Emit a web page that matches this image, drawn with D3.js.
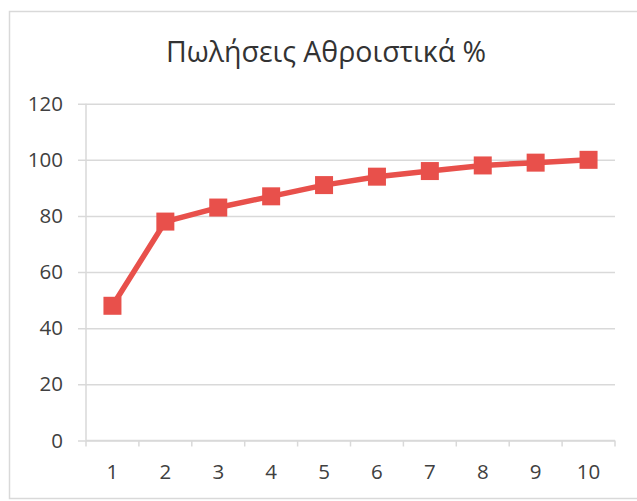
<!DOCTYPE html>
<html>
<head>
<meta charset="utf-8">
<script src="https://cdn.jsdelivr.net/npm/d3@7"></script>
<style>
  html, body { margin: 0; padding: 0; background: #ffffff; }
  svg { display: block; }
  text { font-family: "Open Sans", "Noto Sans", sans-serif; fill: #404040; }
</style>
</head>
<body>
<svg id="chart" width="637" height="501"></svg>
<script>
// Cumulative sales share per item (%)
const categories = ["1", "2", "3", "4", "5", "6", "7", "8", "9", "10"];
const cumulativeSales = [48, 78, 83, 87, 91, 94, 96, 98, 99, 100];
const yTicks = [0, 20, 40, 60, 80, 100, 120];
const chartTitle = "Πωλήσεις Αθροιστικά %";

const svg = d3.select("#chart");
const plot = { left: 86, right: 615, top: 103.7, bottom: 440.5 };
const gridColor = "#d9d9d9";
const seriesColor = "#e8504b";

// chart frame
svg.append("rect")
  .attr("x", 9.5).attr("y", 11.5)
  .attr("width", 640).attr("height", 487)
  .attr("fill", "#ffffff")
  .attr("stroke", gridColor).attr("stroke-width", 1.5);

const x = d3.scaleBand().domain(categories).range([plot.left, plot.right]).padding(0);
const y = d3.scaleLinear().domain([0, 120]).range([plot.bottom, plot.top]);

// title
svg.append("text")
  .attr("x", 326).attr("y", 62)
  .attr("text-anchor", "middle")
  .style("font-size", "28.5px")
  .style("fill", "#333333")
  .text(chartTitle);

// horizontal gridlines with left ticks
const yAxis = d3.axisLeft(y).tickValues(yTicks).tickSize(-(plot.right - plot.left)).tickPadding(23);
const gy = svg.append("g").attr("transform", `translate(${plot.left},0)`).call(yAxis);
gy.select(".domain").remove();
gy.selectAll(".tick line")
  .attr("x1", -8)
  .attr("stroke", gridColor).attr("stroke-width", 1.5);
gy.selectAll(".tick text").style("font-size", "20.5px").attr("fill", "#404040");

// vertical axis line
svg.append("line")
  .attr("x1", plot.left).attr("x2", plot.left)
  .attr("y1", plot.top).attr("y2", plot.bottom)
  .attr("stroke", gridColor).attr("stroke-width", 1.5);

// category axis
const xAxis = d3.axisBottom(x).tickSize(0).tickPadding(24);
const gx = svg.append("g").attr("transform", `translate(0,${plot.bottom})`).call(xAxis);
gx.select(".domain").attr("stroke", gridColor).attr("stroke-width", 1.5)
  .attr("d", `M${plot.left},0H${plot.right}`);
gx.selectAll(".tick text").style("font-size", "20.5px").attr("fill", "#404040");

// tick marks between categories
const boundaries = categories.map(c => x(c)).concat([x(categories[categories.length - 1]) + x.bandwidth()]);
svg.append("g").selectAll("line").data(boundaries).join("line")
  .attr("x1", d => d).attr("x2", d => d)
  .attr("y1", plot.bottom).attr("y2", plot.bottom + 6)
  .attr("stroke", gridColor).attr("stroke-width", 1.5);

const cx = (d, i) => x(categories[i]) + x.bandwidth() / 2;

// series line
const line = d3.line().x((d, i) => cx(d, i)).y(d => y(d));
svg.append("path")
  .datum(cumulativeSales)
  .attr("d", line)
  .attr("fill", "none")
  .attr("stroke", seriesColor)
  .attr("stroke-width", 5.5)
  .attr("stroke-linejoin", "round");

// square markers
const m = 18;
svg.append("g").selectAll("rect").data(cumulativeSales).join("rect")
  .attr("x", (d, i) => cx(d, i) - m / 2)
  .attr("y", d => y(d) - m / 2)
  .attr("width", m).attr("height", m)
  .attr("fill", seriesColor);
</script>
</body>
</html>
